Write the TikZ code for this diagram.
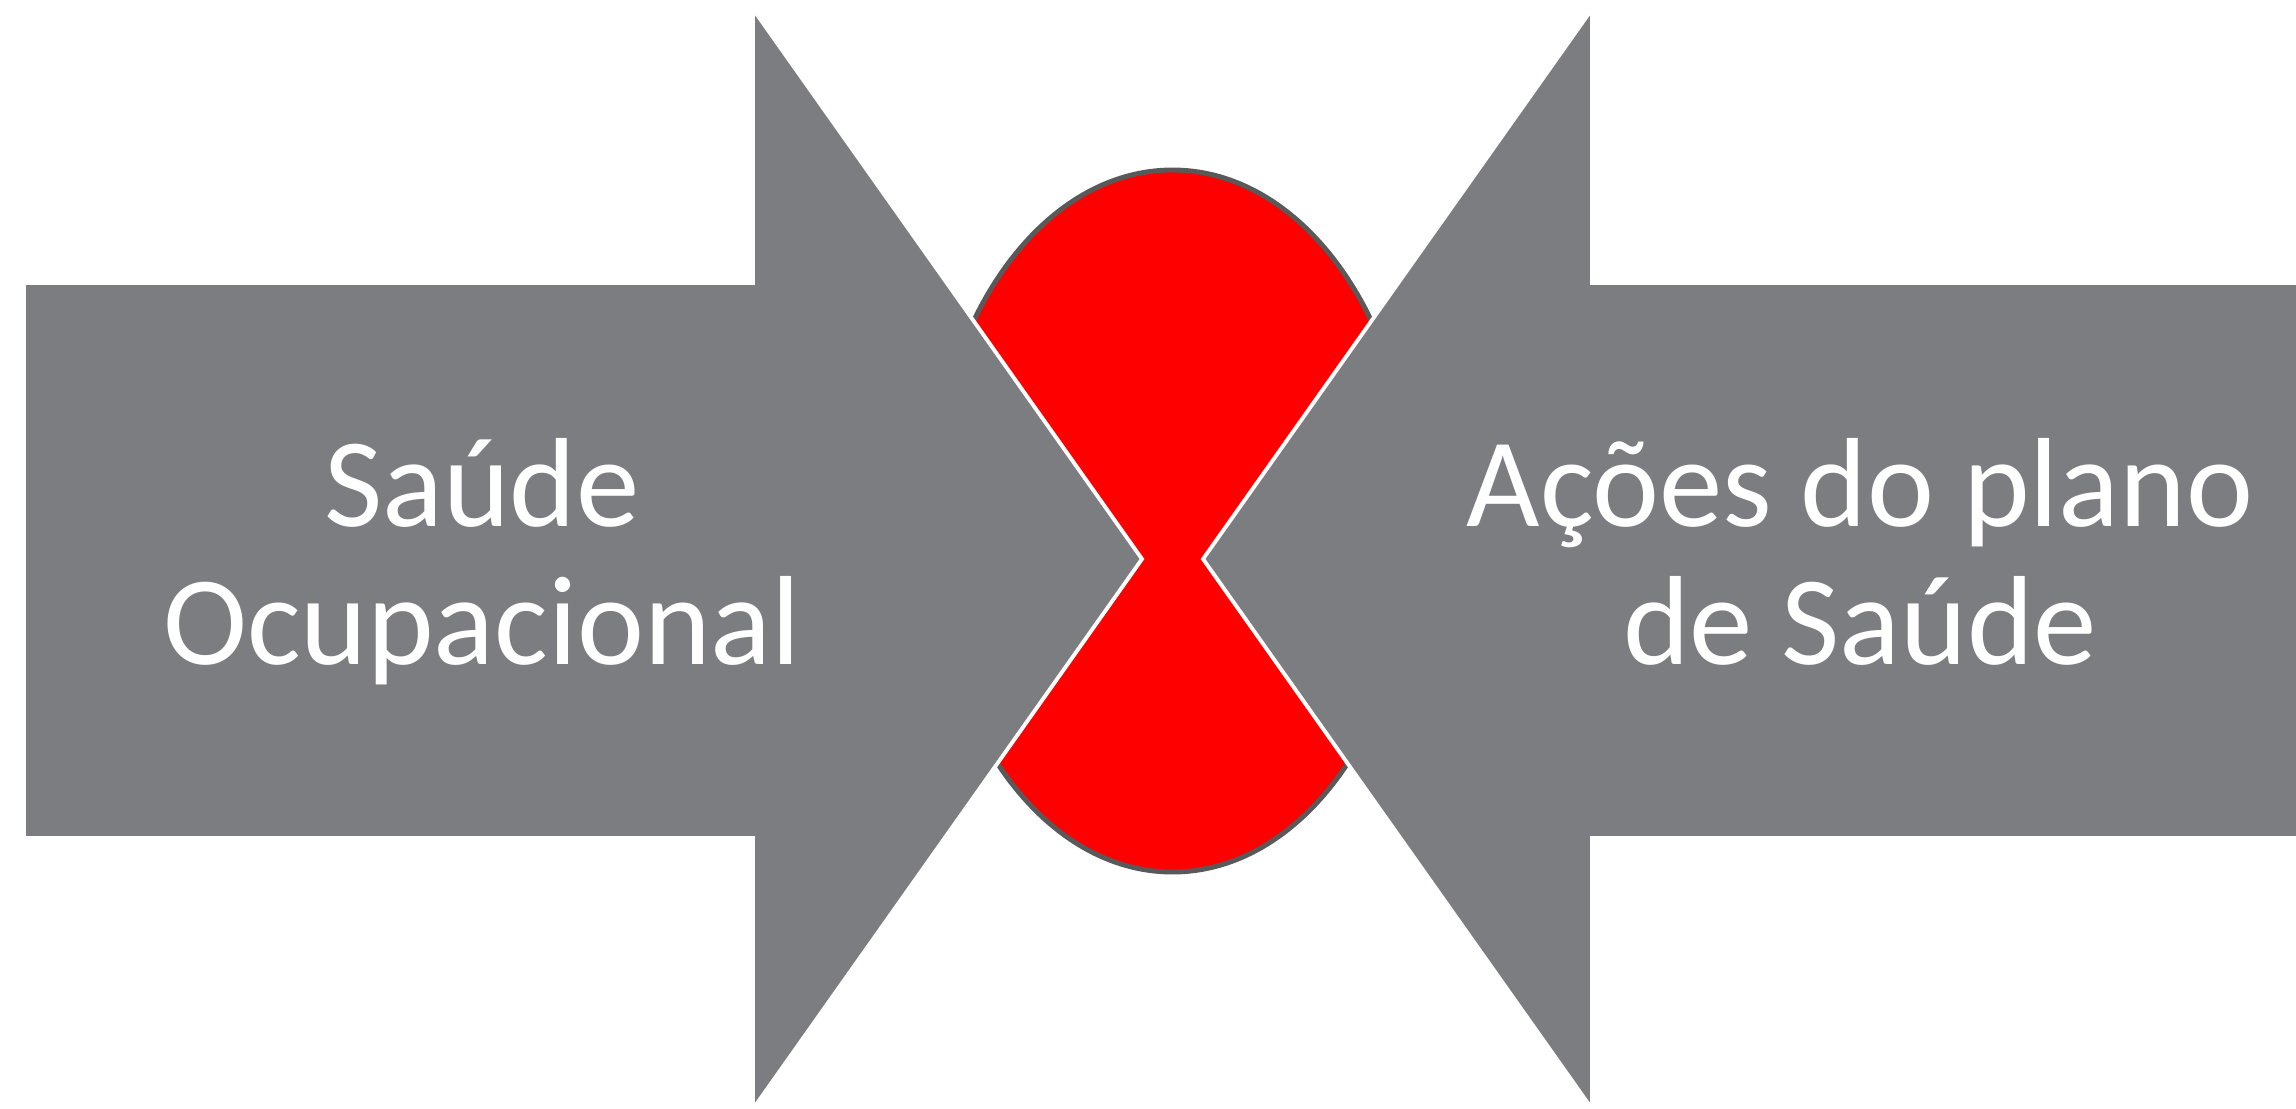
\documentclass[tikz,border=0pt]{standalone}
\usepackage{fontspec}
\setmainfont{Carlito}
\usepackage{tikz}
\definecolor{arrowgray}{RGB}{124,125,129}
\definecolor{rimgray}{RGB}{89,89,89}

\begin{document}
\begin{tikzpicture}[
	arrowfill/.style={fill=arrowgray, draw=white, line width=1.1pt, line join=miter},
	armtext/.style={text=white, align=center, font=\fontsize{36.1}{39.3}\selectfont}]
	\useasboundingbox (0,0) rectangle (22.96,-11.08);
	% red ellipse behind the two arrows
	\draw[fill=red, draw=rimgray, line width=1.4pt] (11.725,-5.21) ellipse (2.42 and 3.51);
	\draw[arrowfill] (0.24,-2.83) -- (7.53,-2.83) -- (7.53,-0.09) -- (11.42,-5.59)
		-- (7.53,-11.09) -- (7.53,-8.38) -- (0.24,-8.38) -- cycle;
	\draw[arrowfill] (23.1,-2.83) -- (15.92,-2.83) -- (15.92,-0.09) -- (12.03,-5.59)
		-- (15.92,-11.09) -- (15.92,-8.38) -- (23.1,-8.38) -- cycle;
	\node[armtext, anchor=base] (saude) at (4.82,-6.645) {Saúde\\Ocupacional};
	\node[armtext, anchor=base] (acoes) at (18.60,-6.645) {Ações do plano\\de Saúde};
\end{tikzpicture}
\end{document}
